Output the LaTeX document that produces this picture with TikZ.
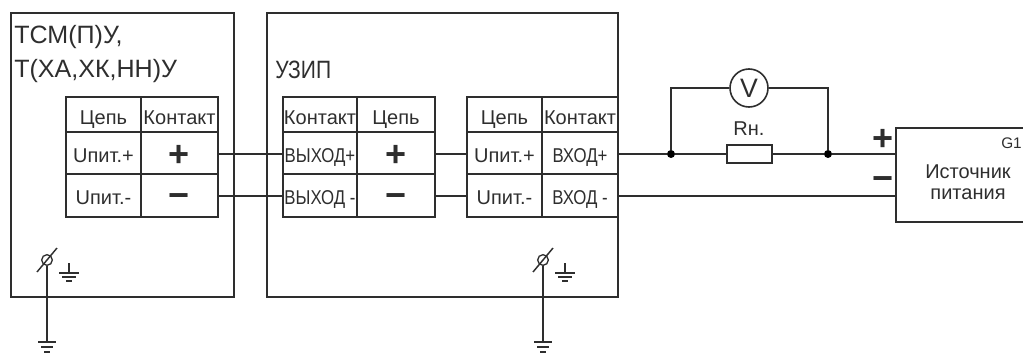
\documentclass[tikz,border=0pt]{standalone}
\usepackage{fontspec}
\setmainfont{Liberation Sans}
\newfontfamily\narrowfont[FakeStretch=0.84]{Liberation Sans}
\usepackage{xcolor}
\usepackage{tikz}
\usetikzlibrary{positioning}
\definecolor{inkc}{HTML}{2E2E2E}
\tikzset{
	wire/.style={draw=inkc,line width=1.1pt},
	outerbox/.style={draw=inkc,line width=1.4pt,inner sep=0pt,outer sep=0pt},
	cell/.style={draw=inkc,line width=1.2pt,inner sep=0pt,outer sep=0pt,text=inkc,text height=13.8pt,text depth=0pt,font=\fontsize{15}{17}\selectfont},
	hdr/.style={cell,text height=15.3pt,minimum height=26.25pt},
	capcell/.style={cell,font=\narrowfont\fontsize{15}{17}\selectfont},
	sign/.style={cell,text height=17.8pt,font=\bfseries\fontsize{27}{27}\selectfont},
	bigsign/.style={inner sep=0pt,text=inkc,text height=17.8pt,text depth=0pt,font=\bfseries\fontsize{27}{27}\selectfont},
	title/.style={inner sep=0pt,text=inkc,anchor=west,font=\fontsize{18.8}{20}\selectfont},
	label/.style={inner sep=0pt,text=inkc,font=\fontsize{15}{17}\selectfont},
	dot/.style={circle,fill=black,inner sep=0pt,minimum size=6pt},
	clamp/.style={circle,draw=inkc,line width=1pt,inner sep=0pt,minimum size=8pt},
	earth/.style={draw=inkc,line width=1.2pt}
}
\begin{document}
\begin{tikzpicture}[x=0.75pt,y=-0.75pt]
	\useasboundingbox (0,0) rectangle (1023,353);
	\clip (0,0) rectangle (1023,353);

	% Outer boxes:
	\node[outerbox,minimum width=167.25pt,minimum height=213pt] (sensor) at (122.5,155) {};
	\node[outerbox,minimum width=263.25pt,minimum height=213pt] (uzip) at (442.5,155) {};
	\node[outerbox,minimum width=112.5pt,minimum height=70.5pt] (source) at (971,175) {};

	\node[title] (sensorname) at (14,37) {ТСМ(П)У,};
	\node[title] (sensortype) at (14,71) {Т(ХА,ХК,НН)У};
	\node[title,font=\narrowfont\fontsize{18.8}{20}\selectfont] (uzipname) at (275,70) {УЗИП};

	% Left table:
	\node[hdr,minimum width=56.25pt] (cA) at (103.5,114.5) {Цепь};
	\node[hdr,minimum width=57.75pt] (cB) at (179.5,114.5) {Контакт};
	\node[cell,minimum width=56.25pt,minimum height=31.5pt] (cC) at (103.5,153) {Uпит.+};
	\node[sign,text height=20.8pt,minimum width=57.75pt,minimum height=31.5pt] (cD) at (179.5,153) {+};
	\node[cell,minimum width=56.25pt,minimum height=32.25pt] (cE) at (103.5,195.5) {Uпит.-};
	\node[sign,minimum width=57.75pt,minimum height=32.25pt] (cF) at (179.5,195.5) {−};

	% Middle table:
	\node[hdr,minimum width=55.5pt] (dA) at (320,114.5) {Контакт};
	\node[hdr,minimum width=58.5pt] (dB) at (396,114.5) {Цепь};
	\node[capcell,minimum width=55.5pt,minimum height=31.5pt] (dC) at (320,153) {ВЫХОД+};
	\node[sign,text height=20.8pt,minimum width=58.5pt,minimum height=31.5pt] (dD) at (396,153) {+};
	\node[capcell,minimum width=55.5pt,minimum height=32.25pt] (dE) at (320,195.5) {ВЫХОД -};
	\node[sign,minimum width=58.5pt,minimum height=32.25pt] (dF) at (396,195.5) {−};

	% Right table:
	\node[hdr,minimum width=56.25pt] (eA) at (504.5,114.5) {Цепь};
	\node[hdr,minimum width=57pt] (eB) at (580,114.5) {Контакт};
	\node[cell,minimum width=56.25pt,minimum height=31.5pt] (eC) at (504.5,153) {Uпит.+};
	\node[capcell,minimum width=57pt,minimum height=31.5pt] (eD) at (580,153) {ВХОД+};
	\node[cell,minimum width=56.25pt,minimum height=32.25pt] (eE) at (504.5,195.5) {Uпит.-};
	\node[capcell,minimum width=57pt,minimum height=32.25pt] (eF) at (580,195.5) {ВХОД -};

	% Wires between tables:
	\draw[wire] ([yshift=-0.75pt]cD.east) -- ([yshift=-0.75pt]dC.west);
	\draw[wire] ([yshift=-0.375pt]cF.east) -- ([yshift=-0.375pt]dE.west);
	\draw[wire] ([yshift=-0.75pt]dD.east) -- ([yshift=-0.75pt]eC.west);
	\draw[wire] ([yshift=-0.375pt]dF.east) -- ([yshift=-0.375pt]eE.west);

	% Load and voltmeter:
	\node[dot] (jA) at (671,154) {};
	\node[dot] (jB) at (828,154) {};
	\node[draw=inkc,line width=1.2pt,inner sep=0pt,minimum width=33.75pt,minimum height=13.5pt] (rn) at (749.5,154) {};
	\node[label] (rnlabel) at (749,129) {Rн.};
	\node[draw=inkc,line width=1.2pt,circle,inner sep=0pt,minimum size=28.5pt,text=inkc,font=\fontsize{20}{20}\selectfont] (volt) at (749,88) {V};
	\draw[wire] ([yshift=-0.75pt]eD.east) -- (jA) -- (rn) -- (jB) -- (source.west |- jB);
	\draw[wire] (jA) |- (volt);
	\draw[wire] (jB) |- (volt);
	\draw[wire] ([yshift=-0.375pt]eF.east) -- ([yshift=-0.375pt]source.west |- eF.east);

	% Power source:
	\node[label,anchor=east,font=\fontsize{11.5}{13}\selectfont] (gname) at (1022,143) {G1};
	\node[label] (srcA) at (968,172) {Источник};
	\node[label] (srcB) at (968,194) {питания};
	\node[bigsign] (plus) at (883,139) {+};
	\node[bigsign] (minus) at (883,179) {−};

	% Earthing:
	\foreach \name/\x in {clampA/47,clampB/543}
	{
		\node[clamp] (\name) at (\x,260) {};
		\coordinate (\name end) at (\x,342);
		\draw[wire] (\name) -- (\name end);
		\draw[wire] (\x-10,272) -- (\x+10,248);
		\draw[earth] (\x-9,342) -- (\x+9,342);
		\draw[earth] (\x-6,347) -- (\x+6,347);
		\draw[earth] (\x-3,352) -- (\x+3,352);
		% small earth sign
		\draw[wire] (\x+22,263) -- (\x+22,273);
		\draw[earth] (\x+12,273) -- (\x+32,273);
		\draw[earth] (\x+15,277) -- (\x+29,277);
		\draw[earth] (\x+19,281) -- (\x+25,281);
	}
\end{tikzpicture}
\end{document}
